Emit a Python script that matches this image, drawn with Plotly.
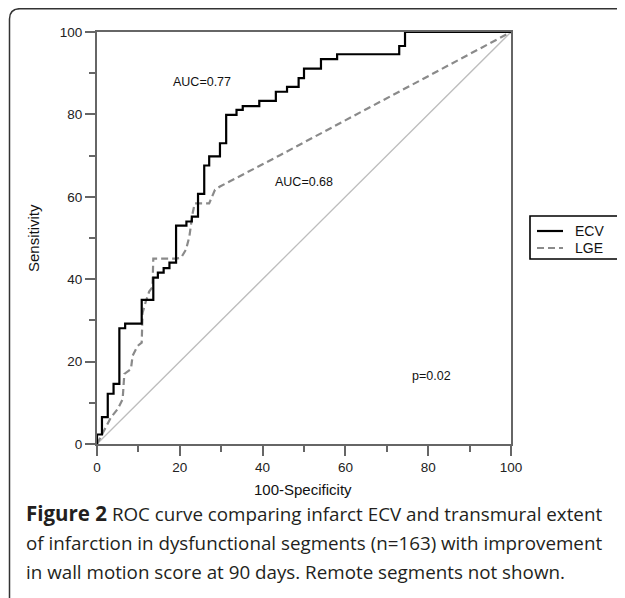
import plotly.graph_objects as go

# ---- data ----
ecv_fpr = [0, 0, 1.2, 2.6, 4.0, 5.4, 6.8, 10.8, 13.6, 14.7, 16.1, 17.5, 19.1, 21.6, 22.9,
           24.4, 25.9, 27.1, 29.7, 31.2, 33.7, 35.2, 39.2, 43.2, 45.9, 48.7, 50.0, 54.1,
           58.0, 73.0, 74.4, 100]
ecv_tpr = [0, 2.3, 6.5, 12.2, 14.6, 28.1, 29.2, 35.0, 40.4, 41.6, 42.7, 44.0, 53.0, 54.0, 55.2,
           60.7, 67.6, 69.8, 73.0, 79.9, 81.1, 82.0, 83.3, 85.5, 86.7, 88.8, 91.1, 93.4,
           94.6, 96.6, 100, 100]

lge_fpr = [0, 1.4, 3.4, 5.0, 6.2, 6.6, 8.2, 8.6, 9.8, 10.8, 11.0, 11.8, 12.6, 13.4, 13.6,
           19.0, 20.3, 21.5, 22.3, 23.1, 23.6, 27.1, 28.5, 29.7, 44.2, 100]
lge_tpr = [0, 2.8, 6.5, 8.5, 10.9, 17.0, 18.2, 21.4, 23.8, 24.6, 31.8, 34.6, 37.0, 38.1, 45.0,
           45.0, 45.2, 47.2, 50.3, 56.0, 58.4, 58.4, 61.7, 62.5, 70.1, 100]

ref_line = [0, 100]

tick_vals = [0, 20, 40, 60, 80, 100]
tick_text = ["0", "20", "40", "60", "80", "100"]

series_names = ["ECV", "LGE"]
auc_labels = ["AUC=0.77", "AUC=0.68"]
auc_pos = [(25.4, 87.8), (50.0, 63.7)]
p_label = "p=0.02"
p_pos = (80.9, 16.5)

caption_lines = [
    "<span style='font-size:20.5px'><b>Figure 2</b></span> ROC curve comparing infarct ECV and transmural extent",
    "of infarction in dysfunctional segments (n=163) with improvement",
    "in wall motion score at 90 days. Remote segments not shown.",
]

# ---- layout geometry (page pixels; the page body has an 8px margin) ----
W, H = 625, 598
OFF = 8
L, R, T, B = 97 - OFF, 511 - OFF, 32 - OFF, 444 - OFF


def px(xp):
    """page x pixel -> paper x"""
    return (xp - OFF - L) / (R - L)


def py(yp):
    """page y pixel -> paper y"""
    return (B - (yp - OFF)) / (B - T)


AX_FONT = "Liberation Sans, Arial, sans-serif"
ECV_STYLE = dict(color="#000000", width=2.2)
LGE_STYLE = dict(color="#8a8a8a", width=2.2, dash="7px,4px")

fig = go.Figure()

fig.add_trace(go.Scatter(x=ref_line, y=ref_line, mode="lines",
                         line=dict(color="#bdbdbd", width=1.3),
                         showlegend=False, hoverinfo="skip"))
fig.add_trace(go.Scatter(x=lge_fpr, y=lge_tpr, mode="lines", name=series_names[1],
                         line=LGE_STYLE, showlegend=False))
fig.add_trace(go.Scatter(x=ecv_fpr, y=ecv_tpr, mode="lines", name=series_names[0],
                         line=dict(**ECV_STYLE, shape="hv"), showlegend=False))

axis_common = dict(
    range=[0, 100], tickvals=tick_vals, ticktext=tick_text,
    showgrid=False, zeroline=False,
    showline=True, linecolor="#666666", linewidth=2, mirror=True,
    ticks="outside", ticklen=10, tickwidth=2, tickcolor="#666666",
    tickfont=dict(family=AX_FONT, size=13.5, color="#222222"),
    minor=dict(dtick=10, ticks="outside", ticklen=6, tickwidth=1.5, tickcolor="#666666"),
    fixedrange=True,
)

fig.update_xaxes(**axis_common)
fig.update_yaxes(**axis_common)

annotations = []
for txt, (ax_, ay_) in zip(auc_labels, auc_pos):
    annotations.append(dict(x=ax_, y=ay_, xref="x", yref="y", text=txt, showarrow=False,
                            xanchor="center", yanchor="middle",
                            font=dict(family=AX_FONT, size=12.5, color="#111111")))
annotations.append(dict(x=p_pos[0], y=p_pos[1], xref="x", yref="y", text=p_label,
                        showarrow=False, xanchor="center", yanchor="middle",
                        font=dict(family=AX_FONT, size=12.5, color="#111111")))

# axis titles
annotations.append(dict(x=px(303), y=py(489), xref="paper", yref="paper", text="100-Specificity",
                        xanchor="center", yanchor="middle", showarrow=False,
                        font=dict(family=AX_FONT, size=15, color="#111111")))
annotations.append(dict(x=px(33), y=py(238), xref="paper", yref="paper", text="Sensitivity",
                        textangle=-90, xanchor="center", yanchor="middle", showarrow=False,
                        font=dict(family=AX_FONT, size=15, color="#111111")))

# legend (box, samples, labels)
leg_rows = [231, 248]
leg_styles = [ECV_STYLE, LGE_STYLE]
shapes = [dict(type="rect", xref="paper", yref="paper",
               x0=px(530), x1=px(620), y0=py(216), y1=py(259),
               line=dict(color="#000000", width=1.6), fillcolor="white", layer="above")]
for name, row, sty in zip(series_names, leg_rows, leg_styles):
    shapes.append(dict(type="line", xref="paper", yref="paper",
                       x0=px(537), x1=px(563), y0=py(row), y1=py(row),
                       line=sty, layer="above"))
    annotations.append(dict(x=px(573), y=py(row), xref="paper", yref="paper", text=name,
                            xanchor="left", yanchor="middle", showarrow=False,
                            font=dict(family=AX_FONT, size=14, color="#111111")))

# caption
cap_y = [513, 543, 572]
for line, yy in zip(caption_lines, cap_y):
    annotations.append(dict(x=px(24), y=py(yy), xref="paper", yref="paper", text=line,
                            xanchor="left", yanchor="middle", showarrow=False,
                            font=dict(family="Open Sans, sans-serif", size=18.8, color="#231f20")))

# rounded outer frame (top-left corner visible)
frame_path = (f"M {px(9.5)},{py(660)} L {px(9.5)},{py(19)} "
              f"Q {px(9.5)},{py(8.7)} {px(20)},{py(8.7)} L {px(720)},{py(8.7)}")
shapes.append(dict(type="path", xref="paper", yref="paper", path=frame_path,
                   line=dict(color="#333333", width=1.5), layer="above"))

fig.update_layout(
    width=W, height=H,
    margin=dict(l=L, r=W - R, t=T, b=H - B, autoexpand=False),
    paper_bgcolor="white", plot_bgcolor="white",
    showlegend=False,
    annotations=annotations,
    shapes=shapes,
)

fig.write_html("out.html", config={"displayModeBar": False})
